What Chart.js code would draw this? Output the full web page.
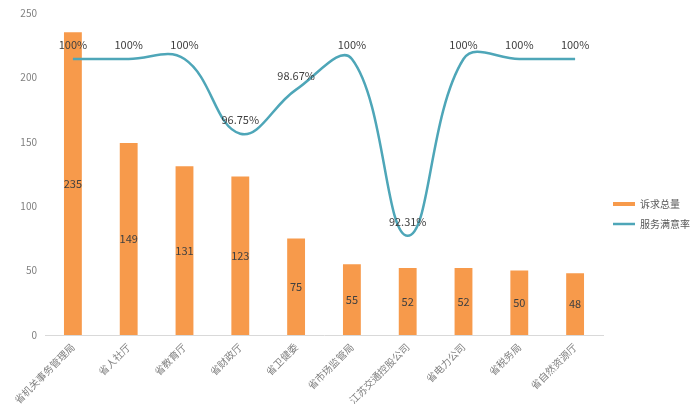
<!DOCTYPE html>
<html>
<head>
<meta charset="utf-8">
<script src="https://cdn.jsdelivr.net/npm/chart.js@4/dist/chart.umd.min.js"></script>
<style>
  html, body { margin: 0; padding: 0; background: #fff; }
  #wrap { width: 700px; height: 419px; }
</style>
</head>
<body>
<div id="wrap"><canvas id="combo"></canvas></div>
<script>
const categories = ['省机关事务管理局', '省人社厅', '省教育厅', '省财政厅', '省卫健委',
    '省市场监管局', '江苏交通控股公司', '省电力公司', '省税务局', '省自然资源厅'];
const totals = [235, 149, 131, 123, 75, 55, 52, 52, 50, 48];
const rates = [100, 100, 100, 96.75, 98.67, 100, 92.31, 100, 100, 100];
const yTicks = [0, 50, 100, 150, 200, 250];

const ORANGE = '#f79a4b';
const TEAL = '#4ea6b8';
const FONT = "'Noto Sans CJK SC', 'Noto Sans', sans-serif";

// value labels: bars in the middle, line points above
const valueLabels = {
    id: 'valueLabels',
    afterDatasetsDraw(chart) {
        const ctx = chart.ctx;
        ctx.save();
        ctx.font = '11px ' + FONT;
        ctx.fillStyle = '#404040';
        ctx.textAlign = 'center';
        ctx.textBaseline = 'middle';
        chart.data.datasets.forEach((ds, i) => {
            const meta = chart.getDatasetMeta(i);
            meta.data.forEach((el, j) => {
                if (ds.type === 'bar') {
                    ctx.fillText(ds.data[j], el.x, (el.y + el.base) / 2);
                } else {
                    ctx.fillText(ds.data[j] + '%', el.x, el.y - 14);
                }
            });
        });
        ctx.restore();
    }
};

new Chart(document.getElementById('combo'), {
    data: {
        labels: categories,
        datasets: [{
            type: 'bar',
            label: '诉求总量',
            data: totals,
            backgroundColor: ORANGE,
            yAxisID: 'y',
            barPercentage: 0.64,
            categoryPercentage: 0.5,
            order: 1
        }, {
            type: 'line',
            label: '服务满意率',
            data: rates,
            borderColor: TEAL,
            backgroundColor: TEAL,
            borderWidth: 2.5,
            pointRadius: 0,
            tension: 0.4,
            yAxisID: 'y1',
            order: 0
        }]
    },
    options: {
        responsive: true,
        maintainAspectRatio: false,
        animation: false,
        layout: { padding: { top: 13, right: 0, bottom: 4, left: 4 } },
        scales: {
            x: {
                grid: { display: false, drawTicks: false },
                border: { color: '#d9d9d9' },
                ticks: {
                    color: '#808080',
                    font: { size: 10, family: FONT },
                    maxRotation: 45,
                    minRotation: 45,
                    padding: 6
                },
                afterFit: a => { a.height = 80; a.paddingLeft = 0; a.paddingRight = 0; }
            },
            y: {
                min: 0,
                max: 250,
                afterBuildTicks: axis => { axis.ticks = yTicks.map(v => ({ value: v })); },
                grid: { display: false },
                border: { display: false },
                ticks: { color: '#7f7f7f', font: { size: 10, family: FONT }, padding: 0 },
                afterFit: a => { a.width = 41; a.paddingTop = 0; a.paddingBottom = 0; }
            },
            y1: {
                display: false,
                min: 88,
                max: 102
            }
        },
        plugins: {
            legend: {
                position: 'right',
                labels: {
                    color: '#595959',
                    font: { size: 10, family: FONT },
                    usePointStyle: true,
                    pointStyleWidth: 22,
                    padding: 10,
                    generateLabels: chart => chart.data.datasets.map((ds, i) => ({
                        text: ds.label,
                        datasetIndex: i,
                        pointStyle: 'line',
                        strokeStyle: ds.type === 'bar' ? ORANGE : TEAL,
                        fillStyle: ds.type === 'bar' ? ORANGE : TEAL,
                        lineWidth: ds.type === 'bar' ? 4 : 2.5,
                        fontColor: '#595959'
                    }))
                }
            },
            tooltip: { enabled: false }
        }
    },
    plugins: [valueLabels]
});
</script>
</body>
</html>
